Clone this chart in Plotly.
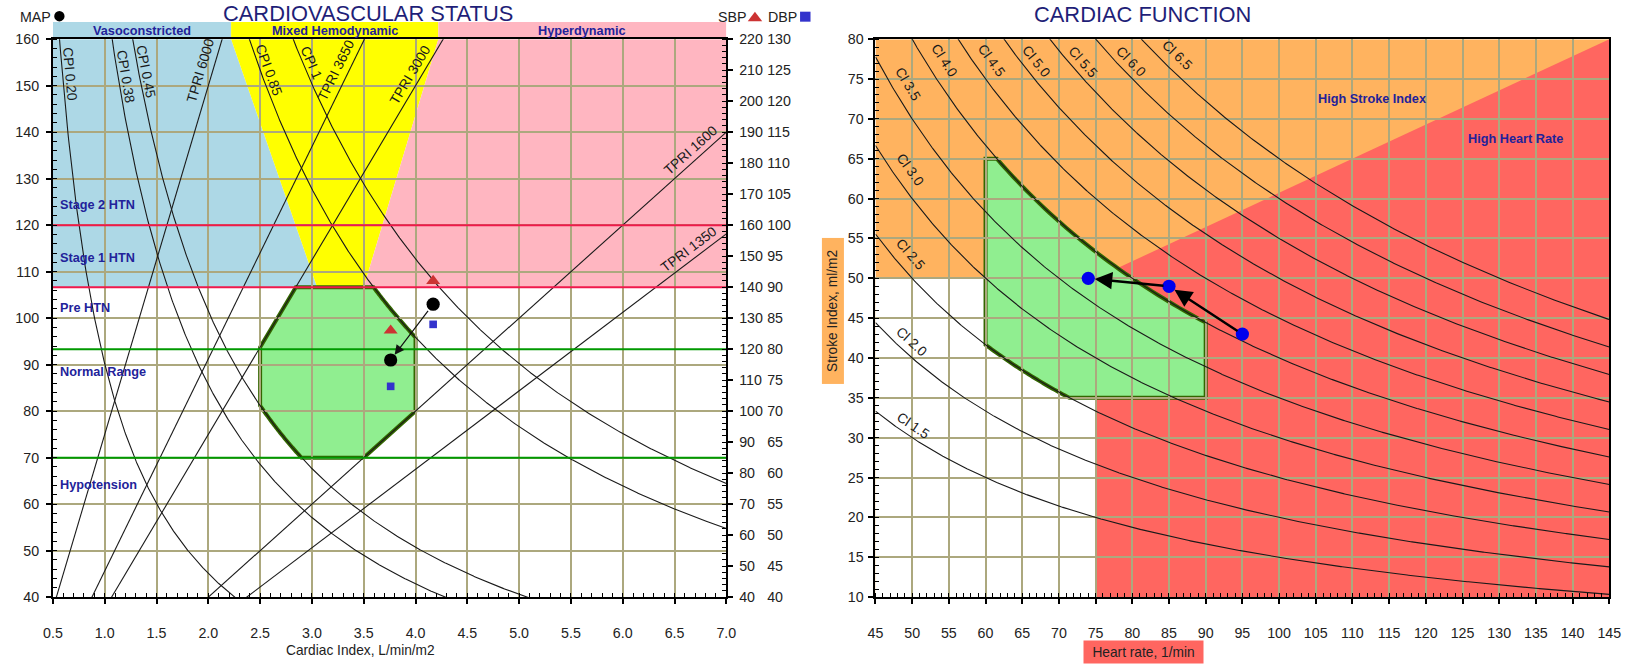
import math
import numpy as np
import plotly.graph_objects as go

# ---------------------------------------------------------------- data
# Cardiovascular status panel (cardiac index vs mean arterial pressure)
ci_range = [0.5, 7.0]
map_range = [40, 160]
sbp_range = [40, 220]
dbp_range = [40, 130]

cpi_levels = [0.20, 0.38, 0.45, 0.85, 1.0]
cpi_names = ["CPI 0.20", "CPI 0.38", "CPI 0.45", "CPI 0.85", "CPI 1"]
tpri_levels = [6000, 3650, 3000, 1600, 1350]
tpri_names = ["TPRI 6000", "TPRI 3650", "TPRI 3000", "TPRI 1600", "TPRI 1350"]

# blood pressure class limits as (SBP, DBP)
stage2_bp = (160, 100)
stage1_bp = (140, 90)
normal_bp = (120, 80)
hypo_bp = (90, 60)

hemo_names = ["Vasoconstricted", "Mixed Hemodynamic", "Hyperdynamic"]
mixed_top_ci = [2.22, 4.22]      # mixed zone edges at MAP 160
mixed_bottom_ci = [3.05, 3.5]    # mixed zone edges at the stage 1 limit

bp_zone_names = ["Stage 2 HTN", "Stage 1 HTN", "Pre HTN", "Normal Range", "Hypotension"]

target_ci = (2.5, 4.0)
target_cpi = (0.45, 0.85)
target_tpri = (1600, 3000)

reading_ci = [4.17, 3.76]
reading_map = [103, 91]
reading_sbp = [142, 126]
reading_dbp = [84, 74]

# Cardiac function panel (heart rate vs stroke index)
hr_range = [45, 145]
si_range = [10, 80]
ci_levels = [1.5, 2.0, 2.5, 3.0, 3.5, 4.0, 4.5, 5.0, 5.5, 6.0, 6.5]
ci_names = ["CI %.1f" % c for c in ci_levels]
normal_hr = (60, 90)
normal_si = (35, 65)
normal_ci = (2.5, 4.0)
hr_limit = 75
si_limit = 50

reading_hr = [95, 85, 74]
reading_si = [43, 49, 50]

# ---------------------------------------------------------------- helpers
# Layout positions are written in window pixels; the page body keeps an 8px
# margin around the figure and the whole page is fitted into the window.
W, H = 1632, 664
OFF = 8
KX = (W + 2 * OFF) / W
KY = (H + 2 * OFF) / H
KF = (KX + KY) / 2          # font / marker size compensation
FONT = "Liberation Sans, Arial, sans-serif"
NAVY = "#1f1f78"
ZONE_BLUE = "#22229a"
GRID = "#aca87e"
ORANGE = "#FFB35F"
RED = "#FF6660"


def fx(p):
    return (p * KX - OFF) / W


def fy(p):
    return 1 - (p * KY - OFF) / H


def fs(size):
    return round(size * KF, 2)


L_X0, L_X1 = 51, 727
R_X0, R_X1 = 876.7, 1613.3
P_TOP, P_BOT = 39, 597.3

SX_L = (L_X1 - L_X0) / (ci_range[1] - ci_range[0])
SY_L = (P_BOT - P_TOP) / (map_range[1] - map_range[0])
SX_R = (R_X1 - R_X0) / (hr_range[1] - hr_range[0])
SY_R = (P_BOT - P_TOP) / (si_range[1] - si_range[0])


def mean_pressure(bp):
    return (bp[0] + 2 * bp[1]) / 3.0


def cpi_map(ci, cpi):
    return 451.0 * cpi / ci


def tpri_map(ci, tpri):
    return tpri * ci / 80.0


def path_from(points):
    return "M " + " L ".join("%.5f,%.5f" % (x, y) for x, y in points) + " Z"


def text(x, y, s, font, xref="paper", yref="paper", **kw):
    d = dict(x=x, y=y, xref=xref, yref=yref, text=s, showarrow=False,
             xanchor="center", yanchor="middle", font=font)
    d.update(kw)
    return d


map_stage2 = mean_pressure(stage2_bp)
map_stage1 = mean_pressure(stage1_bp)
map_normal = mean_pressure(normal_bp)
map_hypo = mean_pressure(hypo_bp)

fig = go.Figure()
shapes = []
annotations = []

# ---------------------------------------------------------------- left panel backgrounds
top, bot = map_range[1], map_stage1
shapes.append(dict(type="path", xref="x", yref="y", layer="below", line_width=0,
                   fillcolor="#ADD8E6",
                   path=path_from([(ci_range[0], bot), (ci_range[0], top),
                                   (mixed_top_ci[0], top), (mixed_bottom_ci[0], bot)])))
shapes.append(dict(type="path", xref="x", yref="y", layer="below", line_width=0,
                   fillcolor="#FFFF00",
                   path=path_from([(mixed_bottom_ci[0], bot), (mixed_top_ci[0], top),
                                   (mixed_top_ci[1], top), (mixed_bottom_ci[1], bot)])))
shapes.append(dict(type="path", xref="x", yref="y", layer="below", line_width=0,
                   fillcolor="#FFB6C1",
                   path=path_from([(mixed_bottom_ci[1], bot), (mixed_top_ci[1], top),
                                   (ci_range[1], top), (ci_range[1], bot)])))

# header bands above the panel
band_edges = [ci_range[0], mixed_top_ci[0], mixed_top_ci[1], ci_range[1]]
band_colors = ["#ADD8E6", "#FFFF00", "#FFB6C1"]
zone_font = dict(family=FONT, size=fs(12.5), color=ZONE_BLUE)
for i, name in enumerate(hemo_names):
    shapes.append(dict(type="rect", xref="x", yref="paper", layer="below", line_width=0,
                       fillcolor=band_colors[i], x0=band_edges[i], x1=band_edges[i + 1],
                       y0=fy(P_TOP), y1=fy(21.7)))
    annotations.append(text((band_edges[i] + band_edges[i + 1]) / 2, fy(30.8),
                            "<b>%s</b>" % name, zone_font, xref="x"))

# target octagon bounded by CI, MAP, CPI and TPRI limits
n = 40
pts = []
m_top, m_bot = map_stage1, map_hypo
ci_lo, ci_hi = target_ci
cpi_lo, cpi_hi = target_cpi
tp_lo, tp_hi = target_tpri
pts.append((m_top * 80.0 / tp_hi, m_top))
ci_a = 451.0 * cpi_hi / m_top
for c in np.linspace(ci_a, ci_hi, n):
    pts.append((c, cpi_map(c, cpi_hi)))
pts.append((ci_hi, tpri_map(ci_hi, tp_lo)))
pts.append((m_bot * 80.0 / tp_lo, m_bot))
ci_b = 451.0 * cpi_lo / m_bot
for c in np.linspace(ci_b, ci_lo, n):
    pts.append((c, cpi_map(c, cpi_lo)))
pts.append((ci_lo, tpri_map(ci_lo, tp_hi)))
shapes.append(dict(type="path", xref="x", yref="y", layer="below",
                   fillcolor="#90EE90", line=dict(color="#336600", width=4),
                   path=path_from(pts)))

# ---------------------------------------------------------------- right panel backgrounds
shapes.append(dict(type="rect", xref="x2", yref="y4", layer="below", line_width=0,
                   fillcolor=ORANGE, x0=hr_range[0], x1=hr_range[1], y0=si_range[0], y1=si_range[1]))
shapes.append(dict(type="rect", xref="x2", yref="y4", layer="below", line_width=0,
                   fillcolor="white", x0=hr_range[0], x1=hr_limit, y0=si_range[0], y1=si_limit))
shapes.append(dict(type="path", xref="x2", yref="y4", layer="below", line_width=0,
                   fillcolor=RED,
                   path=path_from([(hr_limit, si_range[0]), (hr_range[1], si_range[0]),
                                   (hr_range[1], si_range[1]), (hr_limit, si_limit)])))

pts = []
pts.append((normal_hr[0], normal_si[1]))
h_a = normal_ci[1] * 1000.0 / normal_si[1]
for h in np.linspace(h_a, normal_hr[1], n):
    pts.append((h, normal_ci[1] * 1000.0 / h))
pts.append((normal_hr[1], normal_si[0]))
h_b = normal_ci[0] * 1000.0 / normal_si[0]
for h in np.linspace(h_b, normal_hr[0], n):
    pts.append((h, normal_ci[0] * 1000.0 / h))
shapes.append(dict(type="path", xref="x2", yref="y4", layer="below",
                   fillcolor="#90EE90", line=dict(color="#336600", width=4),
                   path=path_from(pts)))

# ---------------------------------------------------------------- left panel traces
ci_grid = np.linspace(ci_range[0], ci_range[1], 900)
for lvl in cpi_levels:
    fig.add_trace(go.Scatter(x=ci_grid, y=cpi_map(ci_grid, lvl), mode="lines",
                             line=dict(color="#1a1a1a", width=1.1), xaxis="x", yaxis="y"))
for t in tpri_levels:
    xs = np.array(ci_range)
    fig.add_trace(go.Scatter(x=xs, y=tpri_map(xs, t), mode="lines",
                             line=dict(color="#1a1a1a", width=1.1), xaxis="x", yaxis="y"))

for m, col in [(map_stage2, "#F0194B"), (map_stage1, "#F0194B"),
               (map_normal, "#009900"), (map_hypo, "#009900")]:
    fig.add_trace(go.Scatter(x=ci_range, y=[m, m], mode="lines",
                             line=dict(color=col, width=2), xaxis="x", yaxis="y"))

fig.add_trace(go.Scatter(x=reading_ci, y=reading_sbp, mode="markers", xaxis="x", yaxis="y2",
                         marker=dict(symbol="triangle-up", size=fs(12), color="#CC3333")))
fig.add_trace(go.Scatter(x=reading_ci, y=reading_dbp, mode="markers", xaxis="x", yaxis="y3",
                         marker=dict(symbol="square", size=fs(7.5), color="#3333CC")))
fig.add_trace(go.Scatter(x=reading_ci, y=reading_map, mode="markers", xaxis="x", yaxis="y",
                         marker=dict(symbol="circle", size=fs(13), color="black")))
annotations.append(dict(x=reading_ci[1], y=reading_map[1], ax=reading_ci[0], ay=reading_map[0],
                        xref="x", yref="y", axref="x", ayref="y", text="", showarrow=True,
                        arrowhead=2, arrowsize=1.6, arrowwidth=1.2, arrowcolor="#111",
                        standoff=6.5, startstandoff=6.5))

# ---------------------------------------------------------------- right panel traces
hr_grid = np.linspace(hr_range[0], hr_range[1], 600)
for lvl in ci_levels:
    fig.add_trace(go.Scatter(x=hr_grid, y=lvl * 1000.0 / hr_grid, mode="lines",
                             line=dict(color="#1a1a1a", width=1.1), xaxis="x2", yaxis="y4"))
for i in range(len(reading_hr) - 1):
    annotations.append(dict(x=reading_hr[i + 1], y=reading_si[i + 1],
                            ax=reading_hr[i], ay=reading_si[i],
                            xref="x2", yref="y4", axref="x2", ayref="y4", text="",
                            showarrow=True, arrowhead=2, arrowsize=1.4, arrowwidth=2.5,
                            arrowcolor="black", standoff=6.5, startstandoff=4))
fig.add_trace(go.Scatter(x=reading_hr, y=reading_si, mode="markers", xaxis="x2", yaxis="y4",
                         marker=dict(symbol="circle", size=fs(13), color="#0000EE")))

# ---------------------------------------------------------------- curve labels
label_font = dict(family=FONT, size=fs(13.5), color="#1a1a1a")

cpi_label_map = [152.3, 151.7, 152.6, 152.6, 154.3]
for lvl, name, m in zip(cpi_levels, cpi_names, cpi_label_map):
    c = 451.0 * lvl / m
    a = math.atan(451.0 * lvl / c ** 2 * SY_L / SX_L)
    d = 7.5
    annotations.append(text(c, m, name, label_font, xref="x", yref="y",
                            textangle=math.degrees(a), xshift=d * math.sin(a) * KX,
                            yshift=d * math.cos(a) * KY))

tpri_label_map = [152.6, 152.2, 151.3, 134.4, 113.0]
tpri_label_d = [12, 12, 10, 10, 10]
for t, name, m, d in zip(tpri_levels, tpri_names, tpri_label_map, tpri_label_d):
    c = m * 80.0 / t
    a = math.atan(t / 80.0 * SY_L / SX_L)
    annotations.append(text(c, m, name, label_font, xref="x", yref="y",
                            textangle=-math.degrees(a), xshift=-d * math.sin(a) * KX,
                            yshift=d * math.cos(a) * KY))

ci_label_hr = [49.3, 48.8, 48.3, 48.0, 47.7, 52.5, 59.1, 65.6, 72.2, 78.7, 84.8]
ci_label_d = [10, 12, 14, 15, 15, 16, 15, 12, 11, 11, 14]
for lvl, name, h, d in zip(ci_levels, ci_names, ci_label_hr, ci_label_d):
    s = lvl * 1000.0 / h
    a = math.atan(lvl * 1000.0 / h ** 2 * SY_R / SX_R)
    annotations.append(text(h, s, name.replace("CI", "Cl"), label_font, xref="x2", yref="y4",
                            textangle=math.degrees(a), xshift=d * math.sin(a) * KX,
                            yshift=d * math.cos(a) * KY))

# ---------------------------------------------------------------- zone labels
for name, m in zip(bp_zone_names, [124.5, 113.1, 102.2, 88.6, 64.3]):
    annotations.append(text(ci_range[0], m, "<b>%s</b>" % name, zone_font, xref="x", yref="y",
                            xanchor="left", xshift=5))
annotations.append(text(112.7, 72.5, "<b>High Stroke Index</b>", zone_font, xref="x2", yref="y4"))
annotations.append(text(132.2, 67.6, "<b>High Heart Rate</b>", zone_font, xref="x2", yref="y4"))

# ---------------------------------------------------------------- titles, axis titles, keys
title_font = dict(family=FONT, size=fs(21.5), color=NAVY)
axis_title_font = dict(family=FONT, size=fs(13.5), color="#222")
annotations.append(text(fx(367.5), fy(13.5), "CARDIOVASCULAR STATUS", title_font))
annotations.append(text(fx(1145), fy(14.5), "CARDIAC FUNCTION", title_font))
annotations.append(text(fx(360), fy(651), "Cardiac Index, L/min/m2", axis_title_font))
annotations.append(text(fx(1146), fy(652), "Heart rate, 1/min", axis_title_font,
                        bgcolor=RED, width=111, height=14, borderpad=4))
annotations.append(text(fx(833.5), fy(311), "Stroke Index, ml/m2", axis_title_font,
                        bgcolor=ORANGE, width=137, height=13, borderpad=4, textangle=-90))

key_font = dict(family=FONT, size=fs(14), color="#222")
annotations.append(text(fx(16), fy(17), "MAP", key_font, xanchor="left"))
annotations.append(text(fx(717), fy(17), "SBP", key_font, xanchor="left"))
annotations.append(text(fx(767), fy(17), "DBP", key_font, xanchor="left"))
shapes.append(dict(type="circle", xref="paper", yref="paper", fillcolor="black", line_width=0,
                   x0=fx(52.3), x1=fx(62.7), y0=fy(21.2), y1=fy(10.8)))
shapes.append(dict(type="path", xref="paper", yref="paper", fillcolor="#CC3333", line_width=0,
                   path="M %f,%f L %f,%f L %f,%f Z" % (fx(748.5), fy(21), fx(763), fy(21),
                                                      fx(755.7), fy(11.5))))
shapes.append(dict(type="rect", xref="paper", yref="paper", fillcolor="#3333CC", line_width=0,
                   x0=fx(801), x1=fx(811.5), y0=fy(21.5), y1=fy(11.5)))

# ---------------------------------------------------------------- axes
tick_font = dict(family=FONT, size=fs(14), color="#222")
ydom = [fy(P_BOT), fy(P_TOP)]
common = dict(showline=True, linecolor="black", linewidth=2, ticks="outside", ticklen=5,
              tickwidth=2, tickcolor="black", showgrid=True, gridcolor=GRID, gridwidth=1.5,
              zeroline=False, tickfont=tick_font, fixedrange=True)


def minor(dt):
    return dict(dtick=dt, ticks="inside", ticklen=4, tickwidth=1, tickcolor="black",
                showgrid=False)


fig.update_layout(
    width=W, height=H, margin=dict(l=0, r=0, t=0, b=0),
    paper_bgcolor="white", plot_bgcolor="white", showlegend=False, hovermode=False,
    xaxis=dict(common, domain=[fx(L_X0), fx(L_X1)], anchor="y", range=ci_range,
               tick0=0.5, dtick=0.5, tickformat=".1f", mirror=True, minor=minor(0.1),
               ticklabelstandoff=17),
    yaxis=dict(common, domain=ydom, anchor="x", range=map_range, tick0=40, dtick=10,
               minor=minor(2), ticklabelstandoff=4),
    yaxis2=dict(common, overlaying="y", side="right", anchor="x", range=sbp_range,
                tick0=40, dtick=10, showgrid=False, minor=minor(2), ticklabelstandoff=3),
    yaxis3=dict(overlaying="y", side="right", anchor="free", position=fx(767),
                range=dbp_range, tick0=40, dtick=5, showgrid=False, showline=False,
                ticks="", zeroline=False, tickfont=tick_font, fixedrange=True),
    xaxis2=dict(common, domain=[fx(R_X0), fx(R_X1)], anchor="y4", range=hr_range,
                tick0=45, dtick=5, mirror=True, minor=minor(1), ticklabelstandoff=17),
    yaxis4=dict(common, domain=ydom, anchor="x2", range=si_range, tick0=10, dtick=5,
                mirror=True, minor=minor(1), ticklabelstandoff=2),
    shapes=shapes,
    annotations=annotations,
)

fig.write_html("out.html")
